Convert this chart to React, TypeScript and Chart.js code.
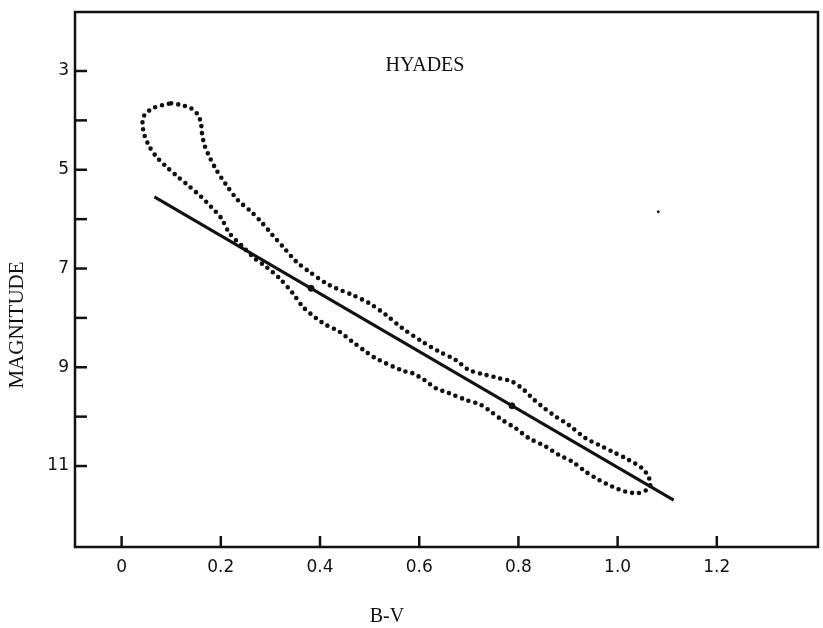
import React, { useEffect, useRef } from "react";
import { Chart, registerables } from "chart.js";

Chart.register(...registerables);

// ---- Data ----
const xTickValues = [0, 0.2, 0.4, 0.6, 0.8, 1.0, 1.2];
const xTickLabels = ["0", "0.2", "0.4", "0.6", "0.8", "1.0", "1.2"];
const yLabelValues = [3, 5, 7, 9, 11];
const yMarkValues = [3, 4, 5, 6, 7, 8, 9, 10, 11];

// Fitted straight line (B-V, magnitude)
const lineBV = [0.066, 1.113];
const lineMag = [5.55, 11.69];
const markBV = [0.382, 0.787];
const markMag = [7.4, 9.78];
const strayBV = [1.082];
const strayMag = [5.85];

// Dotted envelope (closed loop)
const loopBV = [
  0.1, 0.12, 0.14, 0.154, 0.16, 0.162, 0.167, 0.177, 0.191, 0.211, 0.234, 0.261,
  0.281, 0.304, 0.328, 0.352, 0.378, 0.412, 0.432, 0.465, 0.499, 0.533, 0.566,
  0.606, 0.64, 0.673, 0.7, 0.734, 0.761, 0.787, 0.811, 0.828, 0.848, 0.875,
  0.901, 0.935, 0.962, 0.989, 1.022, 1.049, 1.062, 1.066,
  1.059, 1.042, 1.015, 0.989, 0.962, 0.935, 0.908, 0.881, 0.855, 0.821, 0.794,
  0.767, 0.744, 0.724, 0.694, 0.66, 0.633, 0.61, 0.586, 0.566, 0.512, 0.492,
  0.465, 0.439, 0.412, 0.392, 0.365, 0.345, 0.318, 0.291, 0.268, 0.244, 0.217,
  0.201, 0.18, 0.16, 0.137, 0.113, 0.09, 0.07, 0.056, 0.046, 0.042, 0.046,
  0.063, 0.083, 0.1,
];
const loopMag = [
  3.654, 3.688, 3.755, 3.891, 4.059, 4.261, 4.498, 4.735, 5.004, 5.308, 5.611,
  5.848, 6.05, 6.32, 6.589, 6.86, 7.063, 7.298, 7.399, 7.534, 7.702, 7.939,
  8.209, 8.48, 8.682, 8.85, 9.053, 9.154, 9.221, 9.29, 9.457, 9.626, 9.796,
  9.998, 10.166, 10.435, 10.571, 10.706, 10.874, 11.043, 11.213, 11.381,
  11.482, 11.549, 11.516, 11.415, 11.279, 11.111, 10.909, 10.773, 10.605,
  10.435, 10.233, 10.065, 9.897, 9.761, 9.66, 9.524, 9.423, 9.255, 9.119,
  9.067, 8.816, 8.682, 8.48, 8.277, 8.142, 8.006, 7.771, 7.5, 7.196, 6.962,
  6.792, 6.557, 6.279, 5.982, 5.747, 5.545, 5.342, 5.14, 4.937, 4.735, 4.532,
  4.296, 4.059, 3.891, 3.755, 3.688, 3.654,
];

const toPts = (xs: number[], ys: number[]) => xs.map((x, i) => ({ x, y: ys[i] }));

const INK = "#111";

const decorPlugin = {
  id: "decor",
  afterDraw(chart: any) {
    const { ctx, chartArea } = chart;
    const xs = chart.scales.x;
    const ys = chart.scales.y;
    ctx.save();
    ctx.strokeStyle = INK;
    ctx.lineCap = "butt";
    // frame
    ctx.lineWidth = 2.5;
    ctx.strokeRect(chartArea.left, chartArea.top, chartArea.right - chartArea.left, chartArea.bottom - chartArea.top);
    // y tick marks (inward)
    yMarkValues.forEach((v) => {
      const y = ys.getPixelForValue(v);
      ctx.beginPath();
      ctx.moveTo(chartArea.left, y);
      ctx.lineTo(chartArea.left + 12, y);
      ctx.stroke();
    });
    // x tick marks (inward)
    xTickValues.forEach((v) => {
      const x = xs.getPixelForValue(v);
      ctx.beginPath();
      ctx.moveTo(x, chartArea.bottom);
      ctx.lineTo(x, chartArea.bottom - 11);
      ctx.stroke();
    });
    // texts
    ctx.fillStyle = INK;
    ctx.textAlign = "center";
    ctx.textBaseline = "middle";
    ctx.font = "20px 'Liberation Serif', 'Times New Roman', serif";
    ctx.fillText("HYADES", 425, 66);
    ctx.fillText("B-V", 387, 617);
    ctx.save();
    ctx.translate(17, 325);
    ctx.rotate(-Math.PI / 2);
    ctx.font = "21px 'Liberation Serif', 'Times New Roman', serif";
    ctx.fillText("MAGNITUDE", 0, 0);
    ctx.restore();
    ctx.restore();
  },
};

const zeroPad = (scale: any) => {
  scale.paddingTop = 0;
  scale.paddingBottom = 0;
  scale.paddingLeft = 0;
  scale.paddingRight = 0;
};

export default function App() {
  const ref = useRef<HTMLCanvasElement | null>(null);

  useEffect(() => {
    if (!ref.current) return;
    const chart = new Chart(ref.current, {
      type: "scatter",
      data: {
        datasets: [
          {
            data: toPts(loopBV, loopMag),
            showLine: true,
            borderColor: INK,
            backgroundColor: INK,
            borderWidth: 4.6,
            borderDash: [0, 7],
            borderCapStyle: "round",
            pointRadius: 0,
            tension: 0.3,
          } as any,
          {
            data: toPts(lineBV, lineMag),
            showLine: true,
            borderColor: INK,
            borderWidth: 3,
            pointRadius: 0,
          },
          {
            data: toPts(markBV, markMag),
            showLine: false,
            backgroundColor: INK,
            borderColor: INK,
            pointRadius: 3,
          },
          {
            data: toPts(strayBV, strayMag),
            showLine: false,
            backgroundColor: INK,
            borderColor: INK,
            pointRadius: 1,
          },
        ],
      },
      options: {
        responsive: false,
        animation: false,
        layout: { padding: { top: 12, right: 3, left: 0, bottom: 0 } },
        plugins: {
          legend: { display: false },
          tooltip: { enabled: false },
          title: { display: false },
        },
        scales: {
          x: {
            type: "linear",
            min: -0.094,
            max: 1.404,
            grid: { display: false, drawTicks: false },
            border: { display: false },
            afterBuildTicks: (scale: any) => {
              scale.ticks = xTickValues.map((v) => ({ value: v }));
            },
            afterFit: (scale: any) => {
              scale.height = 81;
              zeroPad(scale);
            },
            ticks: {
              padding: 10,
              color: INK,
              font: { family: "'DejaVu Sans', sans-serif", size: 17 },
              maxRotation: 0,
              callback: (_v: any, i: number) => xTickLabels[i],
            },
          },
          y: {
            type: "linear",
            reverse: true,
            min: 1.805,
            max: 12.64,
            grid: { display: false, drawTicks: false },
            border: { display: false },
            afterBuildTicks: (scale: any) => {
              scale.ticks = yLabelValues.map((v) => ({ value: v }));
            },
            afterFit: (scale: any) => {
              scale.width = 75;
              zeroPad(scale);
            },
            ticks: {
              padding: 6,
              color: INK,
              font: { family: "'DejaVu Sans', sans-serif", size: 17 },
              callback: (v: any) => String(v),
            },
          },
        },
      },
      plugins: [decorPlugin],
    });
    return () => chart.destroy();
  }, []);

  return (
    <div style={{ position: "fixed", left: 0, top: 0, width: 823, height: 628, background: "#fff" }}>
      <canvas ref={ref} width={823} height={628} style={{ display: "block" }} />
    </div>
  );
}
